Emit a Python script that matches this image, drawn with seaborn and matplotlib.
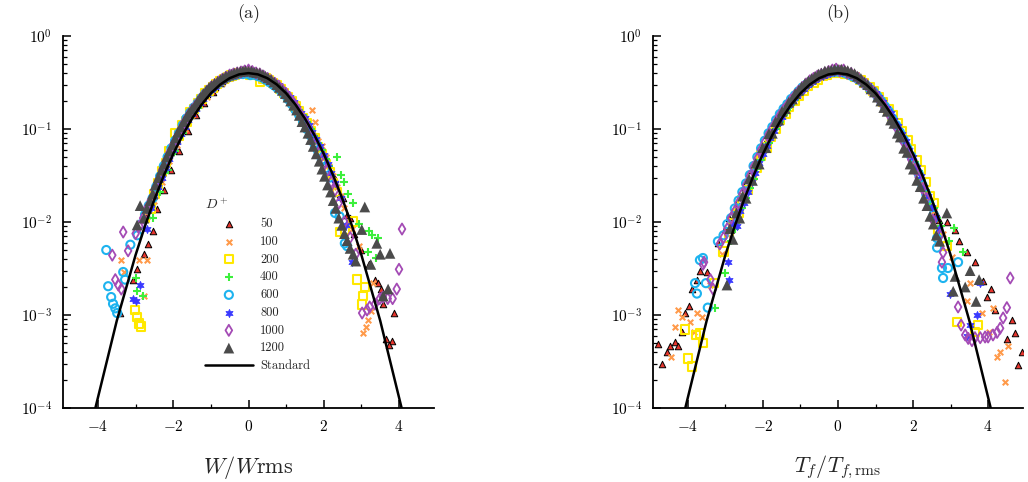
import matplotlib
matplotlib.use("Agg")
import matplotlib.pyplot as plt
from matplotlib.ticker import LogLocator, MultipleLocator, NullFormatter
import pandas as pd
import seaborn as sns

# ---------------------------------------------------------------------------
# Probability density of the normalised signal, one list pair per D+ value
# ---------------------------------------------------------------------------
levels = ["50", "100", "200", "400", "600", "800", "1000", "1200"]

# panel (a): W / W_rms
a50_x = [-3.41, -3.06, -2.96, -2.78, -2.66, -2.53, -2.42, -2.25, -2.05, -1.85, -1.62, -1.40, -1.18, -0.95,
         -0.72, -0.50, -0.28, -0.05, 0.18, 0.40, 0.62, 0.85, 1.08, 1.30, 1.52, 1.75, 1.98, 2.20, 2.42, 2.62,
         2.80, 3.00, 3.20, 3.36, 3.44, 3.52, 3.58, 3.87, 3.65, 3.81, 3.74,
         -2.7, -2.5, -2.3, -2.1, -1.9, -1.7, -1.5, -1.3, -1.1, -0.9, -0.7, -0.5, -0.3, -0.1, 0.1, 0.3, 0.5,
         0.7, 0.9, 1.1, 1.3, 1.5, 1.7, 1.9, 2.1, 2.3, 2.5, 2.7]
a50_y = [0.00105, 0.0024, 0.0031, 0.0045, 0.0058, 0.0081, 0.0138, 0.022, 0.036, 0.058, 0.095, 0.14, 0.19, 0.25,
         0.31, 0.36, 0.39, 0.40, 0.39, 0.37, 0.33, 0.28, 0.22, 0.17, 0.125, 0.085, 0.055, 0.034, 0.020, 0.012,
         0.0075, 0.0050, 0.0035, 0.0024, 0.0022, 0.0019, 0.0013, 0.00105, 0.00055, 0.00053, 0.00048,
         0.012, 0.021, 0.034, 0.052, 0.077, 0.11, 0.15, 0.19, 0.235, 0.285, 0.33, 0.37, 0.39, 0.41, 0.405,
         0.385, 0.35, 0.31, 0.26, 0.21, 0.165, 0.125, 0.09, 0.063, 0.043, 0.029, 0.018, 0.011]

a100_x = [-3.38, -3.30, -2.90, -2.77, -2.69, -2.50, -2.30, -2.10, -1.90, -1.70, -1.50, -1.30, -1.10, -0.90,
          -0.70, -0.50, -0.30, -0.10, 0.10, 0.30, 0.50, 0.70, 0.90, 1.10, 1.30, 1.50, 1.69, 1.77, 1.95, 2.15,
          2.35, 2.55, 2.75, 2.95, 3.31, 3.05, 3.12, 3.17, 3.25,
          -2.6, -2.4, -2.2, -2.0, -1.8, -1.6, -1.4, -1.2, -1.0, -0.8, -0.6, -0.4, -0.2, 0.0, 0.2, 0.4, 0.6,
          0.8, 1.0, 1.2, 1.4, 1.6, 1.85, 2.05, 2.25, 2.45]
a100_y = [0.0039, 0.0029, 0.0039, 0.0016, 0.0039, 0.017, 0.027, 0.045, 0.068, 0.10, 0.14, 0.18, 0.22, 0.27,
          0.31, 0.35, 0.38, 0.39, 0.39, 0.37, 0.34, 0.30, 0.26, 0.21, 0.17, 0.13, 0.16, 0.119, 0.065, 0.040,
          0.024, 0.014, 0.0085, 0.0055, 0.0022, 0.00064, 0.00074, 0.00088, 0.0011,
          0.016, 0.026, 0.041, 0.063, 0.095, 0.13, 0.17, 0.21, 0.26, 0.30, 0.34, 0.38, 0.40, 0.41, 0.39,
          0.36, 0.32, 0.28, 0.235, 0.19, 0.15, 0.11, 0.075, 0.05, 0.031, 0.019]

a200_x = [-3.01, -2.96, -2.91, -2.86, -2.60, -2.40, -2.20, -1.94, -1.75, -1.55, -1.35, -1.15, -0.95, -0.75,
          -0.55, -0.35, -0.15, 0.05, 0.31, 0.45, 0.65, 0.85, 1.05, 1.25, 1.45, 1.65, 1.85, 2.05, 2.25, 2.43,
          2.56, 2.77, 2.88, 3.09, 3.04, 3.02,
          -2.75, -2.5, -2.3, -2.1, -1.85, -1.65, -1.45, -1.25, -1.05, -0.85, -0.65, -0.45, -0.25, -0.05,
          0.15, 0.38, 0.55, 0.75, 0.95, 1.15, 1.35, 1.55, 1.75, 1.95, 2.15, 2.35]
a200_y = [0.00113, 0.00095, 0.00081, 0.00075, 0.014, 0.026, 0.043, 0.091, 0.11, 0.15, 0.19, 0.24, 0.28, 0.33,
          0.36, 0.38, 0.40, 0.38, 0.32, 0.35, 0.31, 0.27, 0.22, 0.175, 0.13, 0.095, 0.064, 0.042, 0.026, 0.0078,
          0.0082, 0.0101, 0.0024, 0.0020, 0.0016, 0.0013,
          0.011, 0.02, 0.035, 0.058, 0.085, 0.12, 0.165, 0.21, 0.26, 0.305, 0.345, 0.375, 0.40, 0.41,
          0.39, 0.345, 0.335, 0.295, 0.245, 0.2, 0.155, 0.115, 0.08, 0.053, 0.034, 0.021]

a400_x = [-3.00, -2.96, -2.80, -2.55, -2.35, -2.15, -1.95, -1.75, -1.55, -1.35, -1.15, -0.95, -0.75, -0.55,
          -0.35, -0.15, 0.05, 0.25, 0.45, 0.65, 0.85, 1.05, 1.25, 1.45, 1.65, 1.85, 2.05, 2.35, 2.55, 2.77,
          2.95, 3.17, 3.28, 3.44, 3.20, 3.40,
          -2.65, -2.45, -2.25, -2.05, -1.85, -1.65, -1.45, -1.25, -1.05, -0.85, -0.65, -0.45, -0.25, -0.05,
          0.15, 0.35, 0.55, 0.75, 0.95, 1.15, 1.35, 1.55, 1.75, 1.95, 2.15, 2.45, 2.65]
a400_y = [0.0025, 0.0018, 0.0016, 0.011, 0.021, 0.036, 0.058, 0.09, 0.13, 0.17, 0.22, 0.27, 0.32, 0.36,
          0.39, 0.40, 0.40, 0.38, 0.36, 0.32, 0.28, 0.23, 0.18, 0.14, 0.10, 0.07, 0.048, 0.05, 0.027, 0.016,
          0.0095, 0.0047, 0.0072, 0.0067, 0.0080, 0.0041,
          0.0135, 0.022, 0.034, 0.052, 0.08, 0.115, 0.155, 0.2, 0.245, 0.29, 0.335, 0.37, 0.395, 0.405,
          0.4, 0.375, 0.34, 0.30, 0.255, 0.205, 0.16, 0.12, 0.085, 0.06, 0.04, 0.032, 0.02]

a600_x = [-3.78, -3.73, -3.65, -3.60, -3.54, -3.49, -3.33, -3.28, -3.14, -2.95, -2.75, -2.55, -2.35, -2.15,
          -1.95, -1.75, -1.55, -1.35, -1.15, -0.95, -0.75, -0.55, -0.35, -0.15, 0.05, 0.25, 0.45, 0.65, 0.85,
          1.05, 1.25, 1.45, 1.65, 1.85, 2.05, 2.30, 2.42, 2.56, 2.62,
          -2.85, -2.65, -2.45, -2.25, -2.05, -1.85, -1.65, -1.45, -1.25, -1.05, -0.85, -0.65, -0.45, -0.25,
          -0.05, 0.15, 0.35, 0.55, 0.75, 0.95, 1.15, 1.35, 1.55, 1.75, 1.95, 2.15]
a600_y = [0.005, 0.00204, 0.00156, 0.00132, 0.00118, 0.00105, 0.0029, 0.0024, 0.0057, 0.0072, 0.012, 0.018,
          0.031, 0.05, 0.075, 0.11, 0.15, 0.19, 0.24, 0.28, 0.32, 0.36, 0.38, 0.39, 0.38, 0.37, 0.34, 0.30,
          0.26, 0.21, 0.16, 0.12, 0.085, 0.058, 0.038, 0.0125, 0.0115, 0.0059, 0.0055,
          0.0095, 0.015, 0.024, 0.04, 0.062, 0.09, 0.13, 0.17, 0.215, 0.26, 0.30, 0.345, 0.375, 0.39,
          0.395, 0.385, 0.36, 0.32, 0.28, 0.235, 0.185, 0.14, 0.10, 0.07, 0.047, 0.03]

a800_x = [-3.06, -2.98, -2.88, -2.70, -2.50, -2.30, -2.10, -1.90, -1.70, -1.50, -1.30, -1.10, -0.90, -0.70,
          -0.50, -0.30, -0.10, 0.10, 0.30, 0.50, 0.70, 0.90, 1.10, 1.30, 1.50, 1.70, 1.90, 2.10, 2.30, 2.60,
          2.75,
          -2.6, -2.4, -2.2, -2.0, -1.8, -1.6, -1.4, -1.2, -1.0, -0.8, -0.6, -0.4, -0.2, 0.0, 0.2, 0.4, 0.6,
          0.8, 1.0, 1.2, 1.4, 1.6, 1.8, 2.0, 2.2, 2.45]
a800_y = [0.0015, 0.0014, 0.0021, 0.0085, 0.019, 0.030, 0.048, 0.072, 0.105, 0.145, 0.19, 0.235, 0.28, 0.33,
          0.37, 0.40, 0.41, 0.41, 0.39, 0.36, 0.32, 0.27, 0.22, 0.17, 0.13, 0.092, 0.065, 0.042, 0.026, 0.0093,
          0.0037,
          0.014, 0.024, 0.038, 0.06, 0.088, 0.125, 0.165, 0.21, 0.26, 0.31, 0.35, 0.39, 0.41, 0.415, 0.40,
          0.375, 0.34, 0.295, 0.245, 0.195, 0.15, 0.11, 0.078, 0.053, 0.034, 0.018]

a1000_x = [-3.62, -3.54, -3.46, -3.38, -3.33, -3.20, -3.00, -2.80, -2.60, -2.40, -2.20, -2.00, -1.80, -1.60,
           -1.40, -1.20, -1.00, -0.80, -0.60, -0.40, -0.20, 0.00, 0.20, 0.40, 0.60, 0.80, 1.00, 1.20, 1.40,
           1.60, 1.80, 2.00, 2.20, 2.40, 2.55, 2.70, 2.85, 3.02, 3.15, 3.22, 3.36, 3.49, 3.57, 3.70, 3.83,
           3.94, 4.00, 4.08,
           -2.9, -2.7, -2.5, -2.3, -2.1, -1.9, -1.7, -1.5, -1.3, -1.1, -0.9, -0.7, -0.5, -0.3, -0.1, 0.1,
           0.3, 0.5, 0.7, 0.9, 1.1, 1.3, 1.5, 1.7, 1.9, 2.1, 2.3]
a1000_y = [0.0044, 0.0024, 0.0021, 0.0019, 0.0078, 0.0049, 0.0075, 0.011, 0.017, 0.028, 0.045, 0.068, 0.10,
           0.14, 0.18, 0.23, 0.28, 0.32, 0.36, 0.39, 0.41, 0.43, 0.40, 0.37, 0.33, 0.29, 0.24, 0.19, 0.14,
           0.10, 0.066, 0.043, 0.027, 0.016, 0.010, 0.0068, 0.0045, 0.00105, 0.00113, 0.00122, 0.00131,
           0.0015, 0.00156, 0.0015, 0.0015, 0.0019, 0.0031, 0.0084,
           0.009, 0.014, 0.022, 0.036, 0.056, 0.083, 0.12, 0.16, 0.205, 0.255, 0.30, 0.34, 0.38, 0.40,
           0.42, 0.415, 0.39, 0.35, 0.31, 0.265, 0.215, 0.165, 0.12, 0.084, 0.056, 0.036, 0.022]

a1200_x = [-2.96, -2.88, -2.70, -2.55, -2.40, -2.25, -2.10, -1.95, -1.80, -1.65, -1.50, -1.35, -1.20, -1.05,
           -0.90, -0.75, -0.60, -0.45, -0.30, -0.15, 0.00, 0.15, 0.30, 0.45, 0.60, 0.75, 0.90, 1.05, 1.20,
           1.35, 1.50, 1.65, 1.80, 1.95, 2.10, 2.25, 2.40, 2.55, 2.70, 2.85, 3.01, 3.09, 3.25, 3.41, 3.50,
           3.58, 3.71, 3.76,
           -2.78, -2.62, -2.48, -2.32, -2.18, -2.02, -1.88, -1.72, -1.58, -1.42, -1.28, -1.12, -0.98, -0.82,
           -0.68, -0.52, -0.38, -0.22, -0.08, 0.08, 0.22, 0.38, 0.52, 0.68, 0.82, 0.98, 1.12, 1.28, 1.42,
           1.58, 1.72, 1.88, 2.02, 2.18, 2.32, 2.48, 2.62, 2.78]
a1200_y = [0.0093, 0.015, 0.014, 0.02, 0.03, 0.042, 0.058, 0.08, 0.105, 0.135, 0.165, 0.2, 0.24, 0.28, 0.31,
           0.34, 0.37, 0.39, 0.41, 0.42, 0.42, 0.41, 0.40, 0.37, 0.34, 0.30, 0.26, 0.22, 0.18, 0.14, 0.105,
           0.077, 0.054, 0.037, 0.025, 0.017, 0.011, 0.0075, 0.0052, 0.0038, 0.0083, 0.0145, 0.0035, 0.0059,
           0.0045, 0.0016, 0.0019, 0.0046,
           0.011, 0.017, 0.025, 0.036, 0.05, 0.068, 0.092, 0.12, 0.15, 0.18, 0.22, 0.26, 0.295, 0.325,
           0.355, 0.38, 0.40, 0.415, 0.425, 0.42, 0.405, 0.385, 0.355, 0.32, 0.28, 0.24, 0.2, 0.16, 0.12,
           0.09, 0.065, 0.045, 0.031, 0.021, 0.014, 0.0092, 0.0063, 0.0045]

# panel (b): T_f / T_f,rms
b50_x = [-4.80, -4.69, -4.56, -4.48, -4.35, -4.27, -4.16, -4.08, -3.97, -3.89, -3.76, -3.68, -3.50, -3.20,
         -3.00, -2.80, -2.60, -2.40, -2.20, -2.00, -1.80, -1.60, -1.40, -1.20, -1.00, -0.80, -0.60, -0.40,
         -0.20, 0.00, 0.20, 0.40, 0.60, 0.80, 1.00, 1.20, 1.40, 1.60, 1.80, 2.00, 2.20, 2.40, 2.60, 2.90,
         3.12, 3.23, 3.44, 3.65, 3.87, 4.08, 3.97, 4.19, 4.50, 4.64, 4.72, 4.80, 4.90,
         -2.9, -2.7, -2.5, -2.3, -2.1, -1.9, -1.7, -1.5, -1.3, -1.1, -0.9, -0.7, -0.5, -0.3, -0.1, 0.1,
         0.3, 0.5, 0.7, 0.9, 1.1, 1.3, 1.5, 1.7, 1.9, 2.1, 2.3, 2.5, 2.7]
b50_y = [0.00049, 0.0003, 0.0004, 0.00046, 0.00051, 0.00046, 0.00066, 0.00105, 0.00126, 0.0019, 0.0024,
         0.003, 0.0029, 0.0059, 0.0085, 0.013, 0.019, 0.029, 0.044, 0.064, 0.092, 0.128, 0.17, 0.22, 0.27,
         0.32, 0.36, 0.40, 0.42, 0.43, 0.42, 0.39, 0.35, 0.30, 0.245, 0.19, 0.14, 0.10, 0.068, 0.045, 0.029,
         0.019, 0.0125, 0.01, 0.0082, 0.0062, 0.0047, 0.0037, 0.0023, 0.0019, 0.00157, 0.00113, 0.00055,
         0.00088, 0.00064, 0.00029, 0.0004,
         0.011, 0.016, 0.024, 0.036, 0.054, 0.078, 0.11, 0.15, 0.195, 0.245, 0.295, 0.34, 0.38, 0.41,
         0.43, 0.425, 0.405, 0.37, 0.325, 0.275, 0.22, 0.165, 0.12, 0.084, 0.056, 0.036, 0.023, 0.015, 0.0105]

b100_x = [-4.45, -4.35, -4.27, -4.16, -3.95, -3.84, -3.76, -3.63, -3.40, -3.10, -2.85, -2.65, -2.45, -2.25,
          -2.05, -1.85, -1.65, -1.45, -1.25, -1.05, -0.85, -0.65, -0.45, -0.25, -0.05, 0.15, 0.35, 0.55, 0.75,
          0.95, 1.15, 1.35, 1.55, 1.75, 1.95, 2.15, 2.35, 2.55, 2.80, 3.05, 3.44, 3.52, 3.84, 4.03, 4.13,
          4.24, 4.32, 4.45, 4.53,
          -2.95, -2.75, -2.55, -2.35, -2.15, -1.95, -1.75, -1.55, -1.35, -1.15, -0.95, -0.75, -0.55, -0.35,
          -0.15, 0.05, 0.25, 0.45, 0.65, 0.85, 1.05, 1.25, 1.45, 1.65, 1.85, 2.05, 2.25, 2.45, 2.65]
b100_y = [0.00035, 0.00075, 0.00113, 0.00096, 0.00084, 0.00066, 0.00104, 0.00096, 0.0021, 0.0045, 0.0095,
          0.015, 0.023, 0.034, 0.052, 0.078, 0.11, 0.15, 0.19, 0.235, 0.28, 0.33, 0.37, 0.40, 0.41, 0.40, 0.37,
          0.33, 0.29, 0.245, 0.19, 0.15, 0.11, 0.078, 0.052, 0.034, 0.021, 0.013, 0.0075, 0.0042, 0.0014,
          0.0022, 0.00105, 0.00066, 0.0012, 0.00035, 0.0004, 0.00019, 0.00046,
          0.0075, 0.012, 0.019, 0.028, 0.043, 0.064, 0.094, 0.13, 0.17, 0.215, 0.26, 0.31, 0.35, 0.39,
          0.415, 0.42, 0.395, 0.355, 0.31, 0.265, 0.215, 0.17, 0.13, 0.093, 0.065, 0.043, 0.027, 0.017, 0.0105]

b200_x = [-4.08, -4.00, -3.89, -3.79, -3.68, -3.60, -3.30, -3.05, -2.80, -2.55, -2.30, -2.05, -1.80, -1.55,
          -1.30, -1.05, -0.80, -0.55, -0.30, -0.05, 0.20, 0.45, 0.70, 0.95, 1.20, 1.45, 1.70, 1.95, 2.20,
          2.45, 2.67, 2.90, 3.17, 3.65, 3.73,
          -2.9, -2.65, -2.4, -2.15, -1.9, -1.65, -1.4, -1.15, -0.9, -0.65, -0.4, -0.15, 0.1, 0.35, 0.6,
          0.85, 1.1, 1.35, 1.6, 1.85, 2.1, 2.35, 2.55]
b200_y = [0.0007, 0.00034, 0.00028, 0.00061, 0.00063, 0.0005, 0.0022, 0.0048, 0.0098, 0.017, 0.031, 0.052,
          0.083, 0.125, 0.175, 0.23, 0.29, 0.34, 0.38, 0.40, 0.39, 0.36, 0.31, 0.255, 0.195, 0.14, 0.095,
          0.06, 0.036, 0.019, 0.0082, 0.0055, 0.00084, 0.00066, 0.00078,
          0.0068, 0.0125, 0.022, 0.038, 0.063, 0.1, 0.145, 0.2, 0.26, 0.315, 0.37, 0.40, 0.405, 0.38,
          0.335, 0.28, 0.22, 0.165, 0.115, 0.075, 0.046, 0.027, 0.016]

b400_x = [-3.28, -3.01, -2.85, -2.65, -2.45, -2.25, -2.05, -1.85, -1.65, -1.45, -1.25, -1.05, -0.85, -0.65,
          -0.45, -0.25, -0.05, 0.15, 0.35, 0.55, 0.75, 0.95, 1.15, 1.35, 1.55, 1.75, 1.95, 2.15, 2.35, 2.55,
          2.75, 2.95, 3.10, 3.33,
          -2.75, -2.55, -2.35, -2.15, -1.95, -1.75, -1.55, -1.35, -1.15, -0.95, -0.75, -0.55, -0.35, -0.15,
          0.05, 0.25, 0.45, 0.65, 0.85, 1.05, 1.25, 1.45, 1.65, 1.85, 2.05, 2.25, 2.45, 2.65]
b400_y = [0.0012, 0.0028, 0.0062, 0.0105, 0.018, 0.029, 0.046, 0.07, 0.10, 0.14, 0.18, 0.23, 0.28, 0.33,
          0.37, 0.40, 0.41, 0.40, 0.37, 0.34, 0.30, 0.25, 0.20, 0.155, 0.115, 0.08, 0.054, 0.035, 0.022,
          0.014, 0.009, 0.0062, 0.0086, 0.0048,
          0.0085, 0.014, 0.023, 0.037, 0.057, 0.085, 0.12, 0.16, 0.205, 0.255, 0.305, 0.35, 0.385, 0.41,
          0.42, 0.40, 0.37, 0.32, 0.275, 0.225, 0.175, 0.135, 0.097, 0.067, 0.044, 0.028, 0.017, 0.011]

b600_x = [-3.81, -3.76, -3.68, -3.60, -3.52, -3.47, -3.20, -2.95, -2.75, -2.55, -2.35, -2.15, -1.95, -1.75,
          -1.55, -1.35, -1.15, -0.95, -0.75, -0.55, -0.35, -0.15, 0.05, 0.25, 0.45, 0.65, 0.85, 1.05, 1.25,
          1.45, 1.65, 1.85, 2.05, 2.25, 2.45, 2.64, 2.64, 2.77, 2.80, 2.93, 3.20,
          -3.05, -2.85, -2.65, -2.45, -2.25, -2.05, -1.85, -1.65, -1.45, -1.25, -1.05, -0.85, -0.65, -0.45,
          -0.25, -0.05, 0.15, 0.35, 0.55, 0.75, 0.95, 1.15, 1.35, 1.55, 1.75, 1.95, 2.15, 2.35, 2.55]
b600_y = [0.0022, 0.0017, 0.0039, 0.0041, 0.0022, 0.0012, 0.0062, 0.0095, 0.014, 0.021, 0.032, 0.05, 0.075,
          0.105, 0.145, 0.185, 0.23, 0.28, 0.32, 0.36, 0.39, 0.41, 0.41, 0.39, 0.36, 0.32, 0.27, 0.225, 0.175,
          0.13, 0.092, 0.062, 0.04, 0.025, 0.015, 0.0067, 0.0053, 0.0032, 0.0025, 0.0032, 0.0037,
          0.0072, 0.011, 0.017, 0.026, 0.04, 0.062, 0.09, 0.125, 0.165, 0.21, 0.255, 0.30, 0.345, 0.38,
          0.40, 0.415, 0.405, 0.375, 0.34, 0.295, 0.25, 0.2, 0.155, 0.11, 0.077, 0.051, 0.033, 0.02, 0.012]

b800_x = [-2.93, -2.90, -2.70, -2.50, -2.30, -2.10, -1.90, -1.70, -1.50, -1.30, -1.10, -0.90, -0.70, -0.50,
          -0.30, -0.10, 0.10, 0.30, 0.50, 0.70, 0.90, 1.10, 1.30, 1.50, 1.70, 1.90, 2.10, 2.30, 2.50, 2.70,
          2.99, 3.44, 3.52, 3.71, 3.79,
          -2.8, -2.6, -2.4, -2.2, -2.0, -1.8, -1.6, -1.4, -1.2, -1.0, -0.8, -0.6, -0.4, -0.2, 0.0, 0.2,
          0.4, 0.6, 0.8, 1.0, 1.2, 1.4, 1.6, 1.8, 2.0, 2.2, 2.4, 2.6]
b800_y = [0.0037, 0.0024, 0.009, 0.016, 0.027, 0.043, 0.066, 0.095, 0.135, 0.18, 0.225, 0.27, 0.32, 0.36,
          0.39, 0.41, 0.41, 0.39, 0.36, 0.32, 0.27, 0.22, 0.17, 0.125, 0.088, 0.06, 0.039, 0.024, 0.0145,
          0.0085, 0.0017, 0.0006, 0.00078, 0.001, 0.0022,
          0.0095, 0.013, 0.021, 0.034, 0.054, 0.08, 0.115, 0.155, 0.2, 0.25, 0.295, 0.34, 0.375, 0.40,
          0.42, 0.405, 0.38, 0.34, 0.295, 0.245, 0.195, 0.148, 0.108, 0.074, 0.05, 0.031, 0.019, 0.011]

b1000_x = [-3.60, -3.57, -3.40, -3.33, -3.15, -2.95, -2.75, -2.55, -2.35, -2.15, -1.95, -1.75, -1.55, -1.35,
           -1.15, -0.95, -0.75, -0.55, -0.35, -0.15, 0.05, 0.25, 0.45, 0.65, 0.85, 1.05, 1.25, 1.45, 1.65,
           1.85, 2.05, 2.25, 2.53, 2.72, 2.80, 2.77, 3.20, 3.28, 3.39, 3.47, 3.57, 3.65, 3.79, 3.92, 4.00,
           4.13, 4.24, 4.32, 4.40, 4.50, 4.59,
           -3.05, -2.85, -2.65, -2.45, -2.25, -2.05, -1.85, -1.65, -1.45, -1.25, -1.05, -0.85, -0.65, -0.45,
           -0.25, -0.05, 0.15, 0.35, 0.55, 0.75, 0.95, 1.15, 1.35, 1.55, 1.75, 1.95, 2.15, 2.35]
b1000_y = [0.0035, 0.0037, 0.0024, 0.0019, 0.0058, 0.0085, 0.013, 0.02, 0.031, 0.048, 0.072, 0.102, 0.14,
           0.18, 0.23, 0.28, 0.33, 0.37, 0.40, 0.43, 0.42, 0.40, 0.37, 0.32, 0.27, 0.22, 0.17, 0.125, 0.088,
           0.058, 0.037, 0.023, 0.0105, 0.0072, 0.0047, 0.0037, 0.00122, 0.00078, 0.00061, 0.00056, 0.00053,
           0.00057, 0.00057, 0.00058, 0.00058, 0.00061, 0.00065, 0.00072, 0.00093, 0.0012, 0.0025,
           0.0068, 0.011, 0.016, 0.025, 0.039, 0.06, 0.087, 0.12, 0.16, 0.205, 0.255, 0.305, 0.35, 0.385,
           0.415, 0.44, 0.43, 0.395, 0.35, 0.3, 0.25, 0.195, 0.145, 0.105, 0.072, 0.047, 0.03, 0.018]

b1200_x = [-2.96, -2.80, -2.62, -2.45, -2.28, -2.10, -1.92, -1.75, -1.58, -1.40, -1.22, -1.05, -0.88, -0.70,
           -0.52, -0.35, -0.18, 0.00, 0.18, 0.35, 0.52, 0.70, 0.88, 1.05, 1.22, 1.40, 1.58, 1.75, 1.92, 2.10,
           2.28, 2.45, 2.62, 2.90, 3.07, 3.12, 3.39, 3.52, 3.68, 3.76,
           -2.88, -2.71, -2.54, -2.37, -2.19, -2.01, -1.84, -1.66, -1.49, -1.31, -1.14, -0.97, -0.79, -0.61,
           -0.44, -0.26, -0.09, 0.09, 0.26, 0.44, 0.61, 0.79, 0.97, 1.14, 1.31, 1.49, 1.66, 1.84, 2.01,
           2.19, 2.37, 2.54, 2.71]
b1200_y = [0.0021, 0.0065, 0.011, 0.018, 0.028, 0.042, 0.063, 0.09, 0.125, 0.165, 0.21, 0.26, 0.31, 0.35,
           0.39, 0.42, 0.43, 0.44, 0.43, 0.41, 0.37, 0.32, 0.27, 0.22, 0.17, 0.125, 0.09, 0.062, 0.042, 0.028,
           0.018, 0.0115, 0.0072, 0.0125, 0.0018, 0.0026, 0.002, 0.003, 0.0014, 0.0024,
           0.0085, 0.0125, 0.019, 0.029, 0.043, 0.063, 0.089, 0.12, 0.155, 0.195, 0.24, 0.285, 0.33, 0.37,
           0.4, 0.425, 0.44, 0.44, 0.425, 0.395, 0.35, 0.30, 0.25, 0.2, 0.155, 0.115, 0.082, 0.056, 0.037,
           0.024, 0.015, 0.0095, 0.0062]

# standard Gaussian reference
std_x = [-4.1, -3.5, -3.0, -2.75, -2.5, -2.25, -2.0, -1.75, -1.5, -1.25, -1.0, -0.75, -0.5, -0.25, 0.0,
         0.25, 0.5, 0.75, 1.0, 1.25, 1.5, 1.75, 2.0, 2.25, 2.5, 2.75, 3.0, 3.5, 4.1]
std_y = [8.9e-5, 8.7e-4, 4.43e-3, 9.09e-3, 1.75e-2, 3.17e-2, 5.40e-2, 8.63e-2, 0.1295, 0.1826, 0.2420,
         0.3011, 0.3521, 0.3867, 0.3989, 0.3867, 0.3521, 0.3011, 0.2420, 0.1826, 0.1295, 8.63e-2, 5.40e-2,
         3.17e-2, 1.75e-2, 9.09e-3, 4.43e-3, 8.7e-4, 8.9e-5]

panel_a = {"50": (a50_x, a50_y), "100": (a100_x, a100_y), "200": (a200_x, a200_y), "400": (a400_x, a400_y),
           "600": (a600_x, a600_y), "800": (a800_x, a800_y), "1000": (a1000_x, a1000_y),
           "1200": (a1200_x, a1200_y)}
panel_b = {"50": (b50_x, b50_y), "100": (b100_x, b100_y), "200": (b200_x, b200_y), "400": (b400_x, b400_y),
           "600": (b600_x, b600_y), "800": (b800_x, b800_y), "1000": (b1000_x, b1000_y),
           "1200": (b1200_x, b1200_y)}

frames = []
for name, panel in (("a", panel_a), ("b", panel_b)):
    for lev in levels:
        xs, ys = panel[lev]
        frames.append(pd.DataFrame({"panel": name, "D": lev, "x": xs, "y": ys}))
df = pd.concat(frames, ignore_index=True)

# marker appearance for each D+
styles = {
    "50": dict(marker="^", color="#e5352d", edgecolor="black", linewidth=0.7, s=22),
    "100": dict(marker="x", color="#ff9a4a", linewidth=1.5, s=16),
    "200": dict(marker="s", facecolor="none", edgecolor="#ffe800", linewidth=1.5, s=36),
    "400": dict(marker="+", color="#3cef3c", linewidth=1.5, s=34),
    "600": dict(marker="o", facecolor="none", edgecolor="#1db3ef", linewidth=1.5, s=34),
    "800": dict(marker=(6, 1, 0), color="#3a3aff", edgecolor="#3a3aff", linewidth=0.6, s=34),
    "1000": dict(marker="d", facecolor="none", edgecolor="#a44bb5", linewidth=1.3, s=32),
    "1200": dict(marker="^", color="#4b4b4b", edgecolor="none", linewidth=0, s=60),
}

sns.set_style("ticks")
plt.rcParams.update({
    "font.family": "serif",
    "font.serif": ["cmr10"],
    "mathtext.fontset": "cm",
    "axes.formatter.use_mathtext": True,
    "axes.linewidth": 1.3,
    "axes.edgecolor": "black",
})

fig = plt.figure(figsize=(10.28, 4.82), dpi=100)
W, H = 1028, 482
ax_a = fig.add_axes([63 / W, 1 - 408 / H, 371 / W, 372 / H])
ax_b = fig.add_axes([653 / W, 1 - 408 / H, 370 / W, 372 / H])

for ax, name, title, xlabel in ((ax_a, "a", "(a)", r"$W/W\mathrm{rms}$"),
                                (ax_b, "b", "(b)", r"$T_f/T_{f,\mathrm{rms}}$")):
    sub = df[df["panel"] == name]
    for lev in levels:
        d = sub[sub["D"] == lev]
        sns.scatterplot(data=d, x="x", y="y", ax=ax, label=lev, legend=False, zorder=2, **styles[lev])
    sns.lineplot(x=std_x, y=std_y, ax=ax, color="black", linewidth=1.8, sort=False,
                 estimator=None, label="Standard", legend=False, zorder=3)

    ax.set_yscale("log")
    ax.set_ylim(1e-4, 1)
    ax.set_xlim(-4.93, 4.93)
    ax.xaxis.set_major_locator(MultipleLocator(2))
    ax.xaxis.set_minor_locator(MultipleLocator(1))
    ax.yaxis.set_major_locator(LogLocator(base=10, numticks=10))
    ax.yaxis.set_minor_locator(LogLocator(base=10, subs=range(2, 10), numticks=20))
    ax.yaxis.set_minor_formatter(NullFormatter())
    ax.tick_params(which="both", direction="in", top=False, right=False, colors="black", labelsize=11)
    ax.tick_params(which="major", length=6, width=1.1)
    ax.tick_params(which="minor", length=3, width=0.9)
    ax.tick_params(axis="y", pad=8)
    ax.tick_params(axis="x", pad=8)
    sns.despine(ax=ax)
    ax.set_xlabel(xlabel, fontsize=16, labelpad=14)
    ax.set_ylabel("")
    ax.set_title(title, fontsize=13, pad=13)

handles, labels = ax_a.get_legend_handles_labels()
leg = ax_a.legend(handles, labels, title=r"$D^+$", frameon=False, fontsize=9, title_fontsize=10,
                  loc="upper left", bbox_to_anchor=(0.383, 0.566), borderaxespad=0, borderpad=0,
                  handlelength=3.8, handletextpad=0.6, labelspacing=0.45, scatterpoints=1)
leg._legend_box.align = "left"

fig.savefig("out.png", dpi=100)
